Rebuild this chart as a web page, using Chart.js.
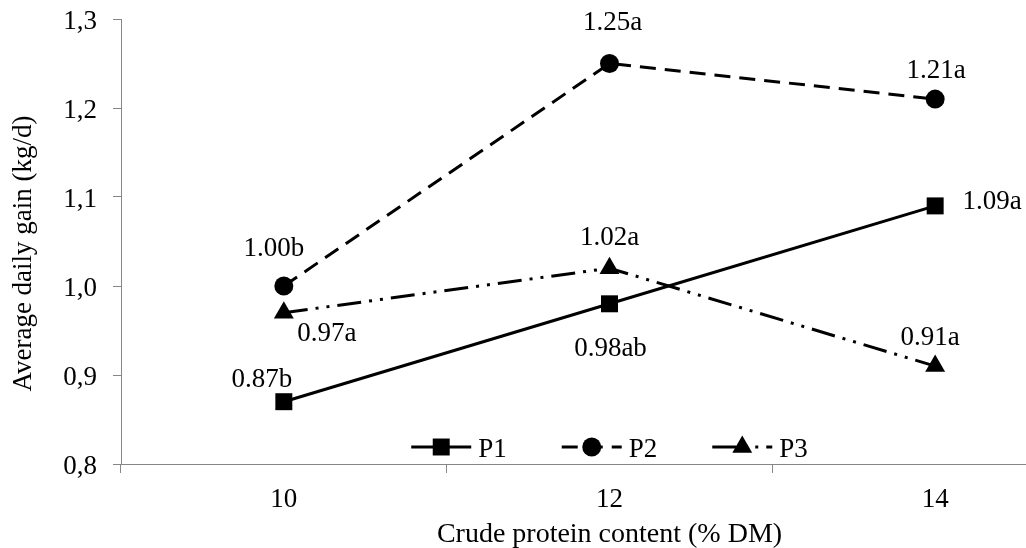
<!DOCTYPE html>
<html>
<head>
<meta charset="utf-8">
<title>Average daily gain by crude protein content</title>
<style>
  html, body { margin: 0; padding: 0; background: #ffffff; overflow: hidden; }
  #wrap { width: 1026px; height: 548px; overflow: hidden; position: relative; }
  #adg { display: block; }
</style>
<script src="https://cdn.jsdelivr.net/npm/chart.js@4.4.1/dist/chart.umd.min.js"></script>
</head>
<body>
<div id="wrap"><canvas id="adg" width="1110" height="548"></canvas></div>
<script>
// Crude protein levels (% DM) on the x axis
const proteinLevels = ['10', '12', '14'];

// Average daily gain (kg/d) for each treatment
const p1Gain = [0.87, 0.98, 1.09];
const p2Gain = [1.00, 1.25, 1.21];
const p3Gain = [0.97, 1.02, 0.91];

// Significance letters printed after each mean
const p1Letters = ['b', 'ab', 'a'];
const p2Letters = ['b', 'a', 'a'];
const p3Letters = ['a', 'a', 'a'];

// Value axis range and step
const yMin = 0.8;
const yMax = 1.3;
const yStep = 0.1;

const seriesNames = ['P1', 'P2', 'P3'];
const xTitle = 'Crude protein content (% DM)';
const yTitle = 'Average daily gain (kg/d)';

const FONT = "'Liberation Serif', 'Times New Roman', serif";
const TEXT_SIZE = 27;   // px, labels and ticks
const XTITLE_SIZE = 28; // px
const AXIS_GREY = '#868686';

// Where each mean label sits relative to its point (dx, dy in px)
const labelOffsets = [
  [[-22, -24], [1, 43], [57, -6]],
  [[-10, -39], [3, -42], [1, -30]],
  [[43, 19], [0, -32], [-5, -30]]
];

// Draw text; y is the visual middle of the digits
function serifText(ctx, text, x, y, align, size) {
  const s = size || TEXT_SIZE;
  ctx.save();
  ctx.font = s + 'px ' + FONT;
  ctx.fillStyle = '#000';
  ctx.textAlign = align;
  ctx.textBaseline = 'alphabetic';
  ctx.fillText(text, x, y + s * 0.33);
  ctx.restore();
}

function textWidth(ctx, text) {
  ctx.save();
  ctx.font = TEXT_SIZE + 'px ' + FONT;
  const w = ctx.measureText(text).width;
  ctx.restore();
  return w;
}

// Tick labels and axis titles
const axisText = {
  id: 'axisText',
  afterDraw(chart) {
    const ctx = chart.ctx;
    const area = chart.chartArea;
    const ys = chart.scales.y;
    ys.ticks.forEach(t => {
      const y = ys.getPixelForValue(t.value);
      serifText(ctx, Number(t.value).toFixed(1).replace('.', ','), area.left - 24, y + 1.5, 'right');
    });
    const xs = chart.scales.x;
    xs.ticks.forEach((t, i) => {
      serifText(ctx, chart.data.labels[i], xs.getPixelForTick(i), area.bottom + 34, 'center');
    });
    serifText(ctx, xTitle, (area.left + area.right) / 2, area.bottom + 69, 'center', XTITLE_SIZE);
    ctx.save();
    ctx.translate(22, (area.top + area.bottom) / 2 + 12);
    ctx.rotate(-Math.PI / 2);
    serifText(ctx, yTitle, 0, 0, 'center');
    ctx.restore();
  }
};

// Mean value + letter next to each point
const meanLabels = {
  id: 'meanLabels',
  afterDatasetsDraw(chart) {
    const ctx = chart.ctx;
    chart.data.datasets.forEach((ds, i) => {
      const meta = chart.getDatasetMeta(i);
      meta.data.forEach((pt, j) => {
        const off = labelOffsets[i][j];
        const txt = ds.data[j].toFixed(2) + ds.letters[j];
        serifText(ctx, txt, pt.x + off[0], pt.y + off[1], 'center');
      });
    });
  }
};

function drawMarker(ctx, style, r, x, y) {
  ctx.beginPath();
  if (style === 'rect') {
    const s = r * Math.SQRT1_2;
    ctx.rect(x - s, y - s, 2 * s, 2 * s);
  } else if (style === 'circle') {
    ctx.arc(x, y, r, 0, Math.PI * 2);
  } else if (style === 'triangle') {
    ctx.moveTo(x, y - r);
    ctx.lineTo(x + Math.sin(Math.PI * 2 / 3) * r, y - Math.cos(Math.PI * 2 / 3) * r);
    ctx.lineTo(x + Math.sin(Math.PI * 4 / 3) * r, y - Math.cos(Math.PI * 4 / 3) * r);
    ctx.closePath();
  }
  ctx.fill();
}

// Legend inside the plot: line sample with its marker, then the name
const lineLegend = {
  id: 'lineLegend',
  afterDraw(chart) {
    const ctx = chart.ctx;
    const area = chart.chartArea;
    const sampleLen = 60, textGap = 7, itemGap = 55;
    const y = area.bottom - 17;
    const widths = chart.data.datasets.map(ds => textWidth(ctx, ds.label));
    const total = widths.reduce((a, w) => a + sampleLen + textGap + w, 0) + itemGap * (widths.length - 1);
    let x = (area.left + area.right) / 2 - total / 2;
    chart.data.datasets.forEach((ds, i) => {
      ctx.save();
      ctx.strokeStyle = ds.borderColor;
      ctx.lineWidth = ds.borderWidth;
      ctx.setLineDash(ds.borderDash || []);
      ctx.beginPath();
      ctx.moveTo(x, y);
      ctx.lineTo(x + sampleLen, y);
      ctx.stroke();
      ctx.setLineDash([]);
      ctx.fillStyle = ds.pointBackgroundColor;
      drawMarker(ctx, ds.pointStyle, ds.pointRadius, x + sampleLen / 2, y);
      ctx.restore();
      serifText(ctx, ds.label, x + sampleLen + textGap, y + 1, 'left');
      x += sampleLen + textGap + widths[i] + itemGap;
    });
  }
};

function series(label, data, letters, pointStyle, radius, dash, width) {
  return {
    label, data, letters,
    borderColor: '#000000',
    backgroundColor: '#000000',
    pointBackgroundColor: '#000000',
    pointBorderColor: '#000000',
    pointBorderWidth: 0,
    pointStyle,
    pointRadius: radius,
    pointHoverRadius: radius,
    borderWidth: width,
    borderDash: dash,
    tension: 0,
    fill: false
  };
}

new Chart(document.getElementById('adg'), {
  type: 'line',
  data: {
    labels: proteinLevels,
    datasets: [
      series(seriesNames[0], p1Gain, p1Letters, 'rect', 12, [], 3),
      series(seriesNames[1], p2Gain, p2Letters, 'circle', 9.5, [16, 9], 3),
      series(seriesNames[2], p3Gain, p3Letters, 'triangle', 11.5, [24, 8, 3, 8, 3, 8], 3)
    ]
  },
  options: {
    responsive: false,
    animation: false,
    events: [],
    layout: { padding: { top: 19, right: 1, bottom: 0, left: 0 } },
    plugins: {
      legend: { display: false },
      tooltip: { enabled: false }
    },
    scales: {
      x: {
        type: 'category',
        offset: true,
        afterFit(scale) { scale.height = 84; },
        grid: {
          offset: true,
          drawOnChartArea: false,
          drawTicks: true,
          tickLength: 9,
          color: AXIS_GREY
        },
        border: { display: true, color: AXIS_GREY, width: 1 },
        ticks: { display: false },
        title: { display: false }
      },
      y: {
        min: yMin,
        max: yMax,
        afterFit(scale) { scale.width = 121; },
        grid: {
          drawOnChartArea: false,
          drawTicks: true,
          tickLength: 8,
          color: AXIS_GREY
        },
        border: { display: true, color: AXIS_GREY, width: 1 },
        ticks: { display: false, stepSize: yStep },
        title: { display: false }
      }
    }
  },
  plugins: [meanLabels, axisText, lineLegend]
});
</script>
</body>
</html>
